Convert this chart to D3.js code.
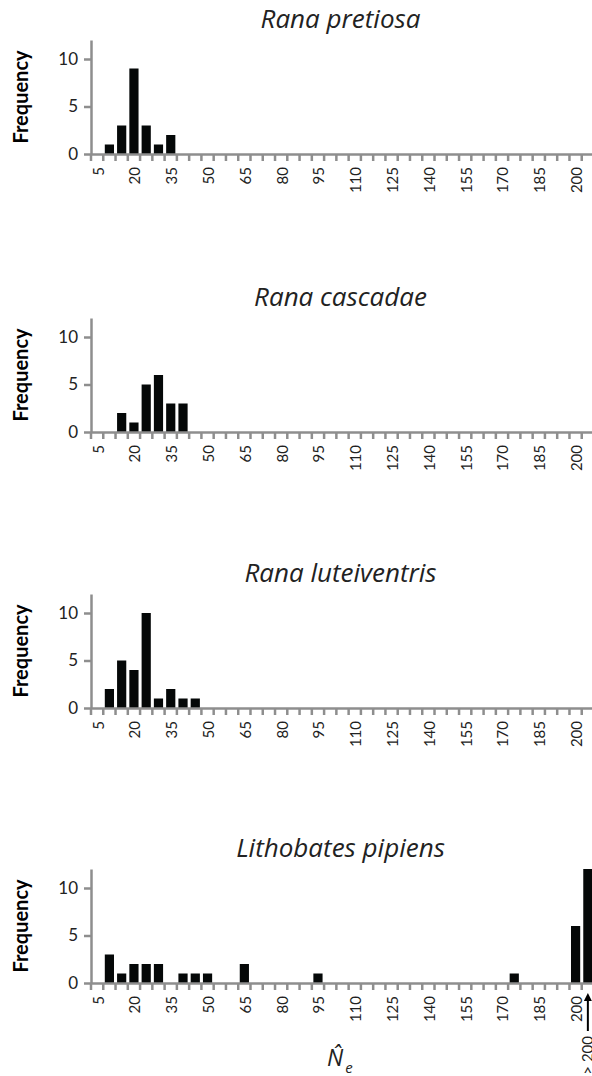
<!DOCTYPE html>
<html>
<head>
<meta charset="utf-8">
<script src="https://cdn.jsdelivr.net/npm/d3@7"></script>
<style>
  body { margin: 0; background: #fff; }
  text { font-family: Lato, "Open Sans", sans-serif; fill: #222; }
  .axis path, .axis line { stroke: #8e8e8e; stroke-width: 2.5px; }
  .tick text { font-size: 15px; fill: #222; }
</style>
</head>
<body>
<div class="chart"></div>
<script>
const width = 592;
const height = 1076;

// Ne bins (5-wide), last one is everything above 200
const categories = ['5','10','15','20','25','30','35','40','45','50','55','60','65','70','75','80','85','90','95','100',
  '105','110','115','120','125','130','135','140','145','150','155','160','165','170','175','180','185','190','195','200','>200'];
const tickLabels = ['5','20','35','50','65','80','95','110','125','140','155','170','185','200'];
const yTicks = [0, 5, 10];

const species = ['Rana pretiosa', 'Rana cascadae', 'Rana luteiventris', 'Lithobates pipiens'];
const pretiosa     = [0,1,3,9,3,1,2,0,0,0, 0,0,0,0,0,0,0,0,0,0, 0,0,0,0,0,0,0,0,0,0, 0,0,0,0,0,0,0,0,0,0, 0];
const cascadae     = [0,0,2,1,5,6,3,3,0,0, 0,0,0,0,0,0,0,0,0,0, 0,0,0,0,0,0,0,0,0,0, 0,0,0,0,0,0,0,0,0,0, 0];
const luteiventris = [0,2,5,4,10,1,2,1,1,0, 0,0,0,0,0,0,0,0,0,0, 0,0,0,0,0,0,0,0,0,0, 0,0,0,0,0,0,0,0,0,0, 0];
const pipiens      = [0,3,1,2,2,2,0,1,1,1, 0,0,2,0,0,0,0,0,1,0, 0,0,0,0,0,0,0,0,0,0, 0,0,0,0,1,0,0,0,0,6, 12];
const series = [pretiosa, cascadae, luteiventris, pipiens];

const zeroLines = [154, 432, 708, 983]; // baseline of each panel
const plotH = 114;

const svg = d3.select('.chart').append('svg')
  .attr('width', width)
  .attr('height', height);

const x = d3.scaleBand()
  .domain(categories)
  .range([91, 594])
  .paddingInner(0.25)
  .paddingOuter(0.125);

series.forEach((values, p) => {
  const y0 = zeroLines[p];
  const y = d3.scaleLinear().domain([0, 12]).range([y0, y0 - plotH]);
  const g = svg.append('g');

  // title
  g.append('text')
    .attr('x', (x.range()[0] + x.range()[1]) / 2 - 2)
    .attr('y', y0 - 126)
    .attr('text-anchor', 'middle')
    .style('font-family', '"Open Sans", sans-serif')
    .style('font-size', '26px')
    .style('font-style', 'italic')
    .text(species[p]);

  // y label
  g.append('text')
    .attr('transform', `translate(28,${y0 - 57}) rotate(-90)`)
    .attr('text-anchor', 'middle')
    .style('font-size', '20px')
    .style('font-weight', 'bold')
    .style('fill', '#000')
    .text('Frequency');

  // bars
  g.selectAll('rect')
    .data(categories.map((c, i) => ({c, v: values[i]})).filter(d => d.v > 0))
    .enter().append('rect')
      .attr('x', d => x(d.c))
      .attr('width', x.bandwidth())
      .attr('y', d => y(d.v))
      .attr('height', d => y(0) - y(d.v))
      .attr('fill', '#050808');

  // y axis
  const yAxis = g.append('g')
    .attr('class', 'axis')
    .attr('transform', `translate(${x.range()[0]},0)`)
    .call(d3.axisLeft(y).tickValues(yTicks).tickSize(7).tickSizeOuter(0).tickPadding(6));
  yAxis.selectAll('text').style('font-size', '17px');

  // x axis (labels only every 3rd bin)
  const xAxis = g.append('g')
    .attr('class', 'axis')
    .attr('transform', `translate(0,${y0})`)
    .call(d3.axisBottom(x).tickValues(tickLabels).tickSize(0).tickSizeOuter(0));
  xAxis.selectAll('text')
    .attr('transform', 'rotate(-90)')
    .attr('text-anchor', 'end')
    .attr('x', -13)
    .attr('y', 1)
    .attr('dy', '0.36em');

  // tick marks sit on the bin boundaries
  xAxis.selectAll('.bound')
    .data(d3.range(categories.length + 1))
    .enter().append('line')
      .attr('class', 'bound')
      .attr('x1', i => x.range()[0] + i * x.step())
      .attr('x2', i => x.range()[0] + i * x.step())
      .attr('y1', 0)
      .attr('y2', 7);
});

// arrow for the >200 bin
const defs = svg.append('defs');
defs.append('marker')
  .attr('id', 'arrow')
  .attr('viewBox', '0 0 10 10')
  .attr('refX', 5).attr('refY', 5)
  .attr('markerWidth', 4).attr('markerHeight', 4)
  .attr('orient', 'auto')
  .append('path')
    .attr('d', 'M0,0 L10,5 L0,10 z')
    .attr('fill', '#000');

const ax = x('>200') + x.bandwidth() / 2;
svg.append('line')
  .attr('x1', ax).attr('x2', ax)
  .attr('y1', 1031).attr('y2', 997)
  .attr('stroke', '#000')
  .attr('stroke-width', 2)
  .attr('marker-end', 'url(#arrow)');

svg.append('text')
  .attr('transform', `translate(${ax},1036) rotate(-90)`)
  .attr('text-anchor', 'end')
  .attr('dy', '0.36em')
  .style('font-size', '15px')
  .text('> 200');

// N-hat sub e, in one text element
const ne = svg.append('text')
  .attr('x', 327).attr('y', 1066)
  .style('font-family', '"Open Sans", sans-serif')
  .style('font-style', 'italic');
ne.append('tspan').style('font-size', '23px').text('N\u0302');
ne.append('tspan').attr('dx', 2).attr('dy', 7).style('font-size', '15px').text('e');
</script>
</body>
</html>
